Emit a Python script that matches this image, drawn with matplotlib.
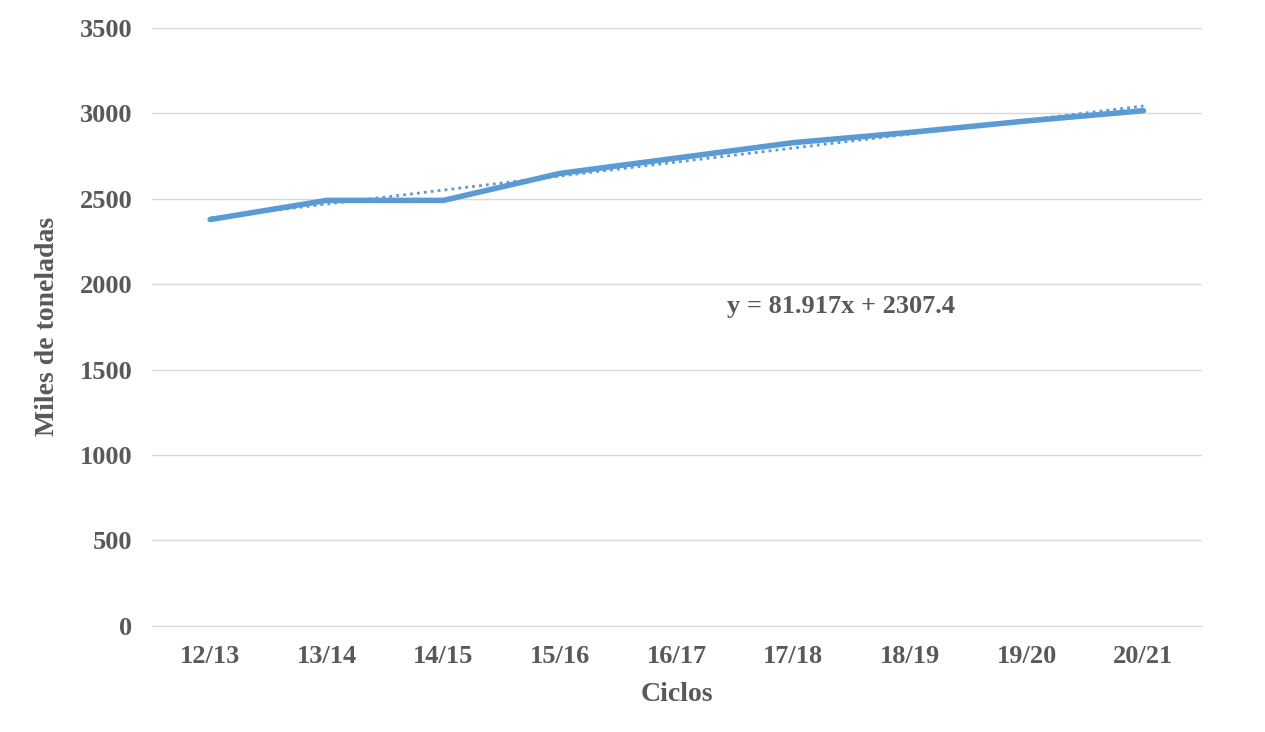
import numpy as np
import matplotlib.pyplot as plt

ciclos = ["12/13", "13/14", "14/15", "15/16", "16/17", "17/18", "18/19", "19/20", "20/21"]
toneladas = [2378, 2490, 2490, 2648, 2738, 2828, 2888, 2955, 3015]
ecuacion = "y = 81.917x + 2307.4"

gray = "#595959"
plt.rcParams['font.family'] = ['Liberation Serif', 'DejaVu Serif']

fig = plt.figure(figsize=(12.65, 7.32), dpi=100)
ax = fig.add_axes([0.120, 0.145, 0.830, 0.817])

x = np.arange(len(ciclos))
ax.plot(x, toneladas, color="#5b9bd5", linewidth=4, solid_capstyle="round", zorder=3)
coef = np.polyfit(x + 1, toneladas, 1)
ax.plot(x, np.polyval(coef, x + 1), color="#5b9bd5", linewidth=2, linestyle=(0, (1, 1.5)), zorder=2)

ax.text(4.43, 1867, ecuacion, fontsize=19, fontweight="bold", color=gray, va="center")

ax.set_xlim(-0.5, len(ciclos) - 0.5)
ax.set_ylim(0, 3500)
ax.set_yticks(np.arange(0, 3501, 500))
ax.set_xticks(x)
ax.set_xticklabels(ciclos)
ax.grid(axis="y", color="#d9d9d9", linewidth=1)
ax.set_axisbelow(True)
for s in ["top", "right", "left"]:
    ax.spines[s].set_visible(False)
ax.spines["bottom"].set_color("#d9d9d9")
ax.tick_params(length=0, labelsize=19, labelcolor=gray, pad=14)
for lbl in ax.get_xticklabels() + ax.get_yticklabels():
    lbl.set_fontweight("bold")
ax.set_xlabel("Ciclos", fontsize=20, fontweight="bold", color=gray, labelpad=10)
ax.set_ylabel("Miles de toneladas", fontsize=20, fontweight="bold", color=gray, labelpad=14)

fig.savefig("out.png", dpi=100)
